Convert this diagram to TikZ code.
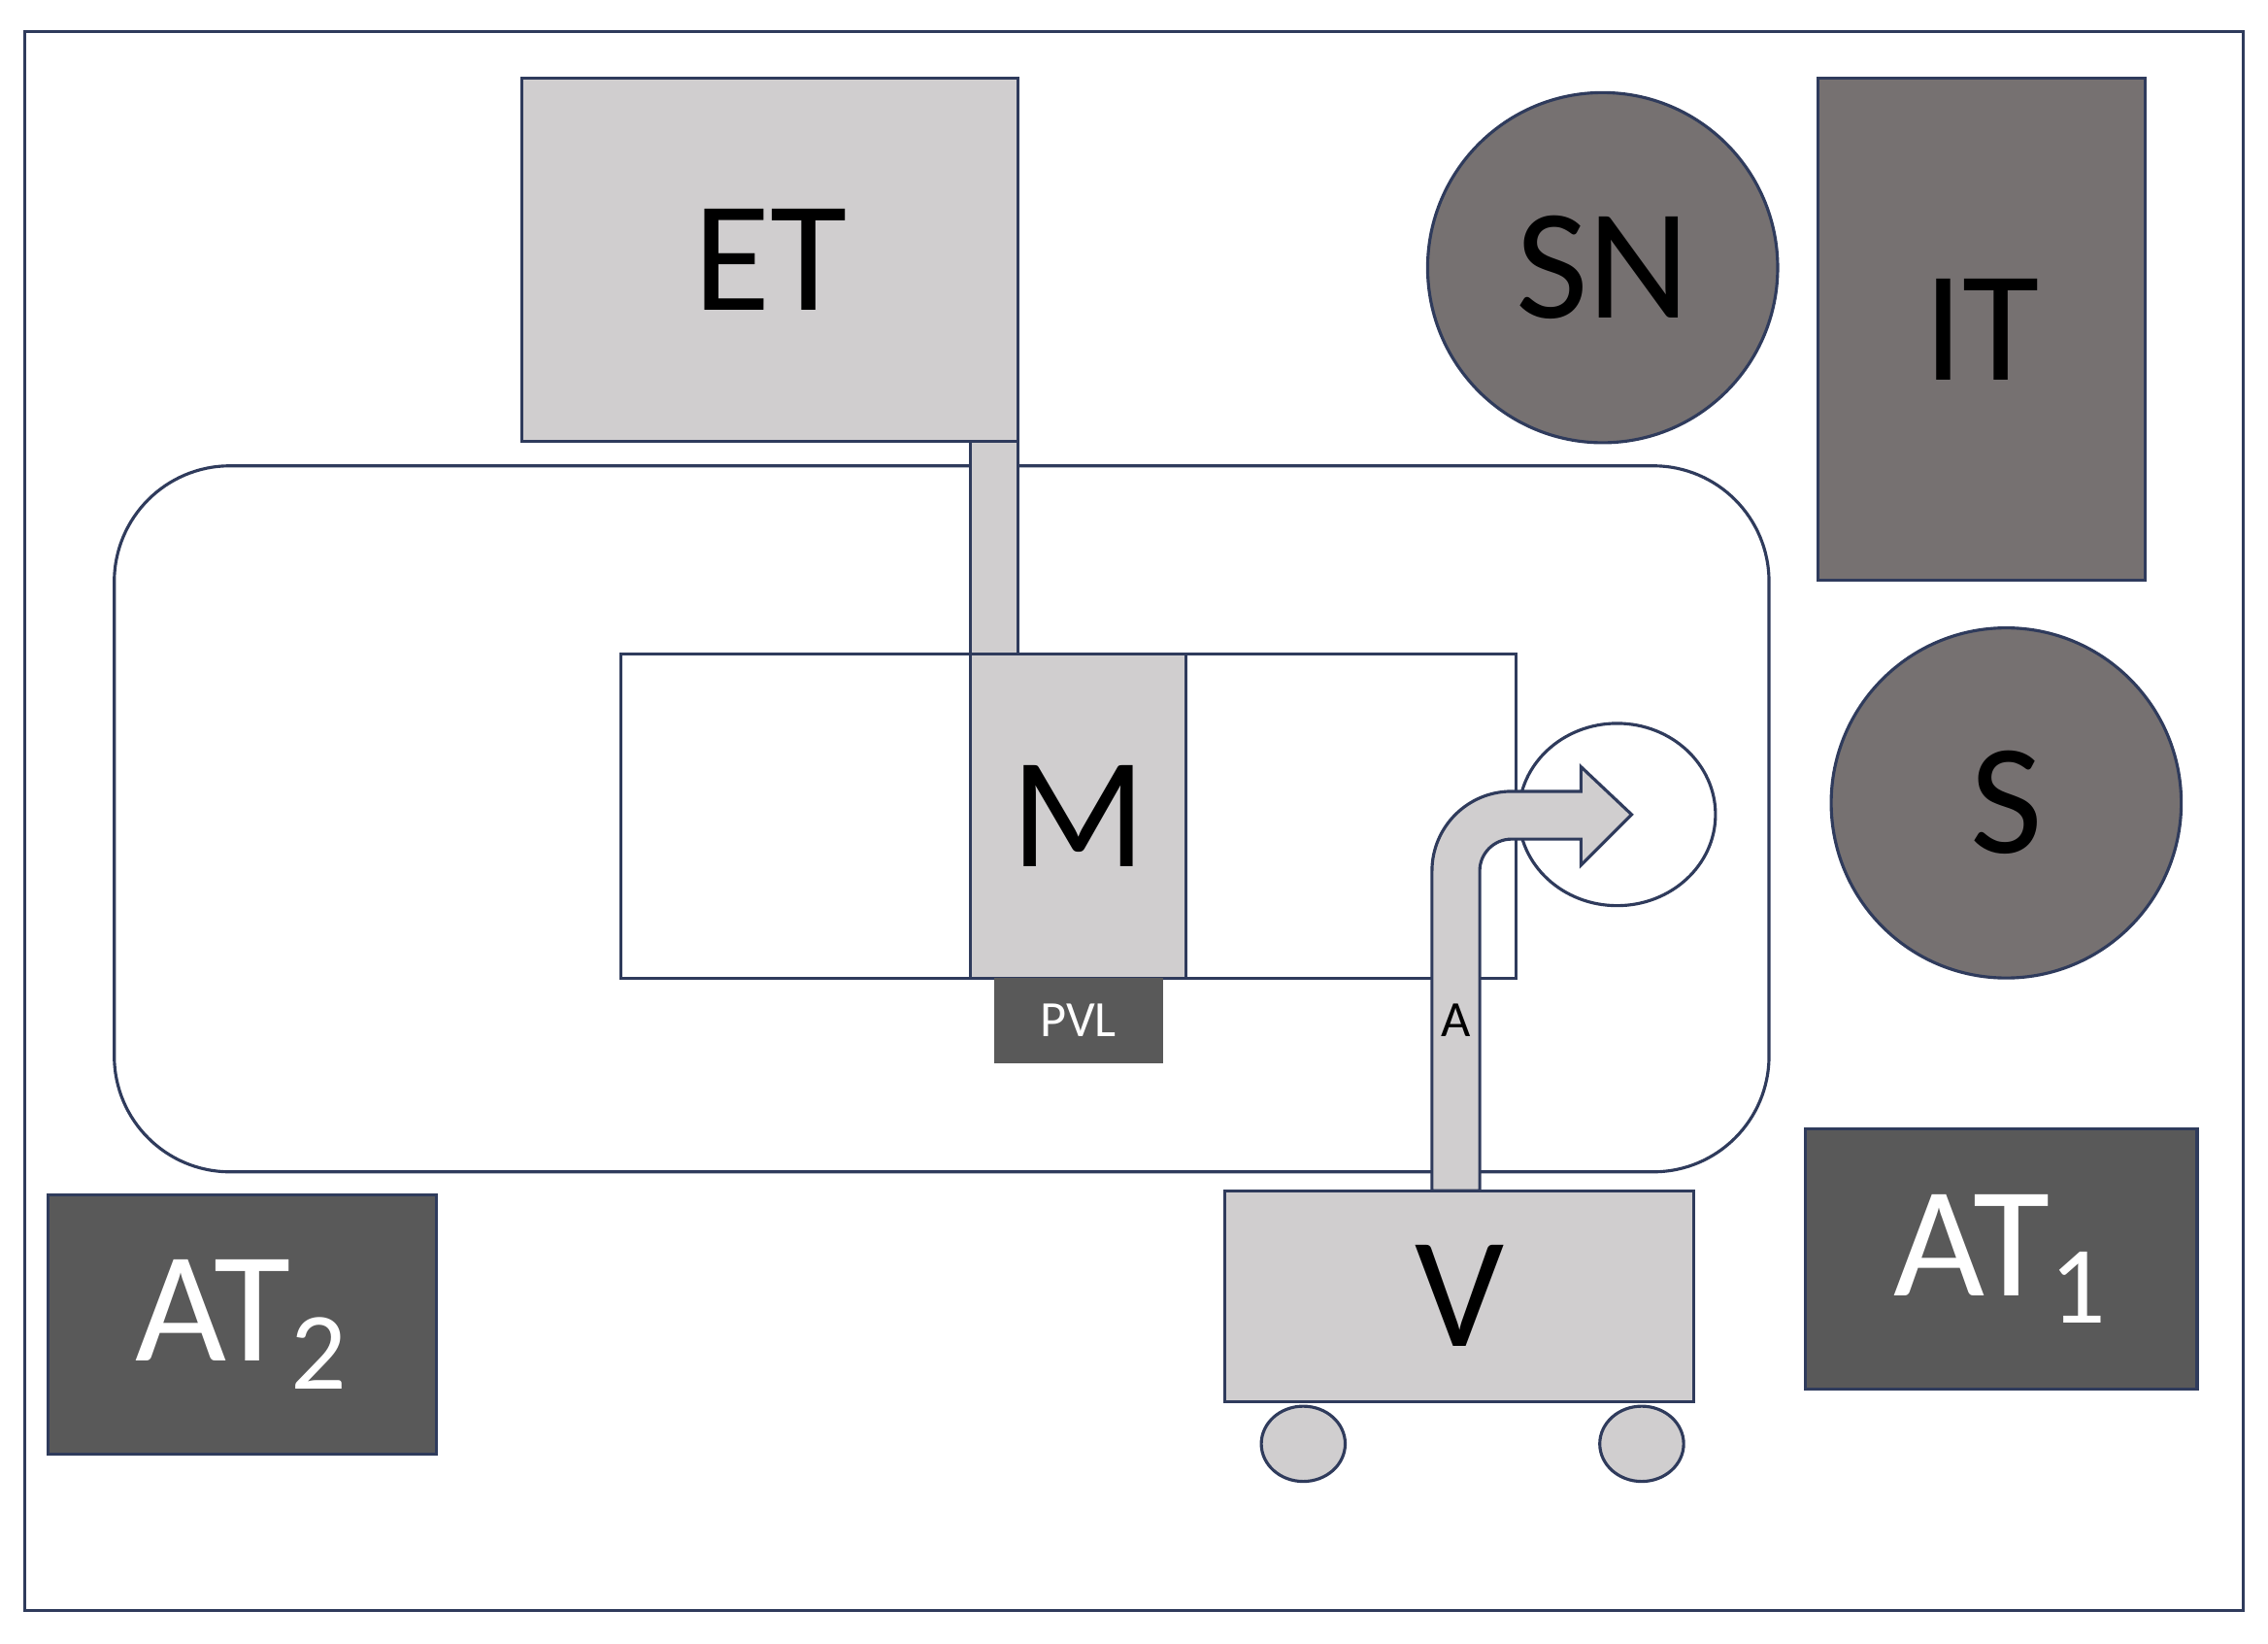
\documentclass[tikz,border=0pt]{standalone}
\usepackage{fontspec}
\setmainfont{Carlito}
\usetikzlibrary{shapes.geometric}
\definecolor{ln}{HTML}{2F3B5C}
\definecolor{lg}{HTML}{D0CECF}
\definecolor{mg}{HTML}{767171}
\definecolor{dg}{HTML}{595959}
\tikzset{
 box/.style={draw=ln,line width=0.6pt,rectangle,inner sep=0pt},
 big/.style={font=\fontsize{31}{31}\selectfont},
 light/.style={box,fill=lg},
 mid/.style={box,fill=mg},
 dark/.style={box,fill=dg,text=white},
 circ/.style={draw=ln,line width=0.6pt,circle,fill=mg,minimum size=2.42cm,inner sep=0pt}
}
\begin{document}
\begin{tikzpicture}
\useasboundingbox (0,0) rectangle (15.68,-11.36);
\draw[ln,line width=0.6pt] (0.17,-0.22) rectangle (15.51,-11.13);
\draw[ln,line width=0.6pt,rounded corners=0.8cm] (0.79,-3.22) rectangle (12.23,-8.10);
\node[box,fill=white,minimum width=6.19cm,minimum height=2.24cm] (W) at (7.385,-5.64) {};
\node[box,fill=white,ellipse,minimum width=1.36cm,minimum height=1.26cm] (E) at (11.18,-5.63) {};
\node[light,minimum width=3.43cm,minimum height=2.51cm,big] (ET) at (5.325,-1.795) {ET};
\node[light,minimum width=0.33cm,minimum height=1.47cm] (B) at (6.875,-3.785) {};
\node[light,minimum width=1.49cm,minimum height=2.24cm,big] (M) at (7.455,-5.64) {M};
\node[dark,draw=none,minimum width=1.17cm,minimum height=0.59cm,font=\fontsize{10}{10}\selectfont] (PVL) at (7.455,-7.055) {PVL};
\node[circ,big] (SN) at (11.08,-1.85) {SN};
\node[mid,minimum width=2.26cm,minimum height=3.47cm,big] (IT) at (13.70,-2.275) {IT};
\node[circ,big] (S) at (13.87,-5.55) {S};
\node[dark,minimum width=2.71cm,minimum height=1.80cm,big] (AT1) at (13.835,-8.70) {AT\textsubscript{1}};
\node[dark,minimum width=2.69cm,minimum height=1.79cm,big] (AT2) at (1.675,-9.155) {AT\textsubscript{2}};
\fill[lg,draw=ln,line width=0.6pt] (9.90,-8.23) -- (9.90,-6.02) arc (180:90:0.55) -- (10.93,-5.47) -- (10.93,-5.30) -- (11.28,-5.63) -- (10.93,-5.98) -- (10.93,-5.80) -- (10.45,-5.80) arc (90:180:0.22) -- (10.23,-8.23) -- cycle;
\node[font=\fontsize{10}{10}\selectfont] (A) at (10.065,-7.05) {A};
\node[light,minimum width=3.24cm,minimum height=1.46cm,big] (V) at (10.09,-8.96) {V};
\node[box,fill=lg,ellipse,minimum width=0.58cm,minimum height=0.52cm] (w1) at (9.01,-9.98) {};
\node[box,fill=lg,ellipse,minimum width=0.58cm,minimum height=0.52cm] (w2) at (11.35,-9.98) {};
\end{tikzpicture}
\end{document}
